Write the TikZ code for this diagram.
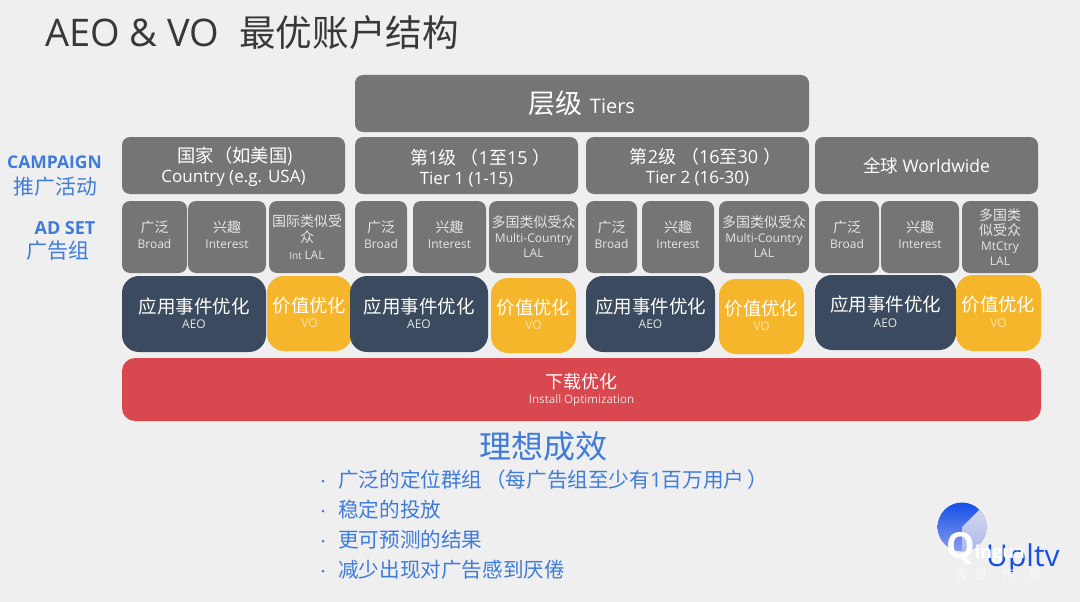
\documentclass[tikz,border=0pt]{standalone}
\usepackage{fontspec}
\setmainfont{Open Sans}
\newfontfamily\cjk{Noto Sans CJK SC}
\newcommand\Z[1]{{\cjk #1}}
\newcommand\fs[1]{\fontsize{#1}{#1}\selectfont}
\newcommand\dn[1]{\rule[-#1pt]{0pt}{0pt}}
\newcommand\up[1]{\rule{0pt}{#1pt}}
\definecolor{bg}{HTML}{EFEFEF}
\definecolor{tier}{HTML}{757575}
\definecolor{navy}{HTML}{3B4A5E}
\definecolor{gold}{HTML}{F6B62C}
\definecolor{redbar}{HTML}{D9474F}
\definecolor{lblue}{HTML}{3F7BD9}
\definecolor{softw}{HTML}{E6E6E6}
\definecolor{logob}{HTML}{1450E6}
\definecolor{logop}{HTML}{8C9CF0}
\definecolor{logog}{HTML}{E4E4E8}
\definecolor{logoq}{HTML}{A6B3EE}
\definecolor{paleg}{HTML}{FBE3A8}
\tikzset{
  x=1pt,y=-1pt,
  basebox/.style={rounded corners=#1,inner sep=0pt,align=center,text=white},
  tierbox/.style={basebox=8pt,fill=tier},
  setbox/.style={basebox=8pt,fill=tier,text=softw},
  aeobox/.style={basebox=17pt,fill=navy},
  vobox/.style={basebox=17pt,fill=gold,text=white},
  redbox/.style={basebox=13pt,fill=redbar},
  blue label/.style={text=lblue,inner sep=0pt,align=center},
  bullet text/.style={text=lblue,inner sep=0pt,anchor=west,font=\fs{20.6}},
  dotmark/.style={circle,fill=lblue,inner sep=0pt,minimum size=3pt},
}
% name, x1, y1, x2, y2, style, text
\newcommand\bx[7]{\node[#6,minimum width={#4-#2},minimum height={#5-#3}] (#1) at ({(#2+#4)/2},{(#3+#5)/2}) {#7};}
\newcommand\setl[2]{{\fs{14}\Z{#1}}\\[4pt]{\fs{12}#2\dn{4}}}
\newcommand\optl[2]{{\fs{18.5}\Z{#1}}\\[3.5pt]{\fs{12}\textcolor{softw}{#2}\dn{2}}}
\newcommand\vol[2]{{\fs{18.3}\Z{#1}}\\[3.5pt]{\fs{12}\textcolor{paleg}{#2}\dn{2}}}
\begin{document}
\begin{tikzpicture}
\fill[bg] (0,0) rectangle (1080,602);
\useasboundingbox (0,0) rectangle (1080,602);
\node[anchor=west,inner sep=0pt,text=black!78,font=\fs{38}] (title) at (45,33) {AEO \& VO\hspace{20pt}{\fs{36.6}\Z{最优账户结构}}};
\bx{tiers}{355}{75}{809}{132}{tierbox}{{\fs{27}\Z{层级}}\hspace{7pt}{\fs{20}Tiers}}
\bx{country}{122}{137}{345}{194}{tierbox}{{\fs{18.3}\up{18}\hspace*{4pt}\Z{国家（如美国)}}\\[4pt]{\fs{17}Country (e.g. USA)}}
\bx{tierone}{355}{137}{578}{194}{tierbox}{{\fs{18}\up{20}\hspace*{28pt}\Z{第}1\Z{级}\hspace{4pt}\Z{（}1\Z{至}15\hspace{5pt}\Z{）}}\\[5pt]{\fs{17}Tier 1 (1-15)}}
\bx{tiertwo}{586}{137}{809}{194}{tierbox}{{\fs{18}\up{18}\hspace*{16pt}\Z{第}2\Z{级}\hspace{5pt}\Z{（}16\Z{至}30\hspace{5pt}\Z{）}}\\[5pt]{\fs{17}Tier 2 (16-30)}}
\bx{world}{815}{137}{1038}{194}{tierbox}{{\fs{17.5}\Z{全球} Worldwide}}
\node[blue label,font=\fs{17.5}\bfseries] (camp) at (54.5,162) {CAMPAIGN};
\node[blue label,font=\fs{20.8}] (campz) at (55.5,187) {\Z{推广活动}};
\node[blue label,font=\fs{18}\bfseries] (adset) at (65,228) {AD SET};
\node[blue label,font=\fs{21}] (adsetz) at (58.5,251) {\Z{广告组}};
% ad sets
\bx{ba}{122}{201}{187}{273}{setbox}{\setl{广泛}{Broad}}
\bx{ia}{188}{201}{266}{273}{setbox}{\setl{兴趣}{Interest}}
\bx{la}{269}{201}{345}{273}{setbox}{{\fs{14}\Z{国际类似受}}\\[2pt]{\fs{14}\Z{众}}\\[5pt]{\fs{10}Int \fs{12}LAL}}
\bx{bb}{355}{201}{407}{273}{setbox}{\setl{广泛}{Broad}}
\bx{ib}{413}{201}{486}{273}{setbox}{\setl{兴趣}{Interest}}
\bx{lb}{489}{201}{578}{273}{setbox}{{\fs{14}\Z{多国类似受众}}\\[3pt]{\fs{12}Multi-Country}\\[3pt]{\fs{12}LAL}}
\bx{bc}{586}{201}{637}{273}{setbox}{\setl{广泛}{Broad}}
\bx{ic}{642}{201}{714}{273}{setbox}{\setl{兴趣}{Interest}}
\bx{lc}{719}{201}{809}{273}{setbox}{{\fs{14}\Z{多国类似受众}}\\[3pt]{\fs{12}Multi-Country}\\[3pt]{\fs{12}LAL}}
\bx{bd}{815}{201}{879}{273}{setbox}{\setl{广泛}{Broad}}
\bx{id}{881}{201}{959}{273}{setbox}{\setl{兴趣}{Interest}}
\bx{ld}{962}{201}{1038}{273}{setbox}{{\fs{14}\Z{多国类}}\\[1.5pt]{\fs{14}\Z{似受众}}\\[3pt]{\fs{12}MtCtry}\\[3pt]{\fs{12}LAL}}
% optimisations
\bx{voa}{267}{276}{352}{351}{vobox}{\vol{价值优化}{VO}}
\bx{aeoa}{122}{276}{266}{352}{aeobox}{\optl{应用事件优化}{AEO}}
\bx{aeob}{350}{276}{488}{352}{aeobox}{\optl{应用事件优化}{AEO}}
\bx{vob}{491}{278}{576}{353}{vobox}{\vol{价值优化}{VO}}
\bx{aeoc}{586}{276}{715}{352}{aeobox}{\optl{应用事件优化}{AEO}}
\bx{voc}{719}{279}{804}{354}{vobox}{\vol{价值优化}{VO}}
\bx{aeod}{815}{275}{956}{350}{aeobox}{\optl{应用事件优化}{AEO}}
\bx{vod}{956}{275}{1041}{351}{vobox}{\vol{价值优化}{VO}}
\bx{install}{122}{358}{1041}{421}{redbox}{{\fs{18}\Z{下载优化}}\\[3pt]{\fs{11.6}\textcolor{softw}{Install Optimization}}}
% outcomes
\node[blue label,font=\fs{32}] (ideal) at (543,446) {\Z{理想成效}};
\node[dotmark] (d1) at (323,481) {};
\node[dotmark] (d2) at (323,511) {};
\node[dotmark] (d3) at (323,541) {};
\node[dotmark] (d4) at (323,571) {};
\node[bullet text] (b1) at (338,480) {\Z{广泛的定位群组}\hspace{3pt}\Z{（每广告组至少有}1\Z{百万用户}\hspace{3pt}\Z{）}};
\node[bullet text] (b2) at (338,510) {\Z{稳定的投放}};
\node[bullet text] (b3) at (338,540) {\Z{更可预测的结果}};
\node[bullet text] (b4) at (338,570) {\Z{减少出现对广告感到厌倦}};
% logo
\shade[top color=logob,bottom color=logop] (962,527) circle (24.5);
\begin{scope}
\clip (962,527) circle (24.5);
\shade[top color=logog,bottom color=logoq] (962,527) -- (1000,489) -- (1000,560) -- (962,560) -- cycle;
\end{scope}
\node[inner sep=0pt,anchor=west,text=logob,font=\fs{30}] (upltv) at (986,559) {Upltv};
\node[inner sep=0pt,anchor=west,text=white,font=\fs{18}\bfseries] (wm) at (946,549) {{\fs{36}Q}\hspace{0pt}ingua};
\node[inner sep=0pt,text=white!70!bg,font=\fs{13}] (wmz) at (998,575) {\Z{青\hspace{7pt}瓜\hspace{14pt}传\hspace{14pt}媒}};
\end{tikzpicture}
\end{document}
